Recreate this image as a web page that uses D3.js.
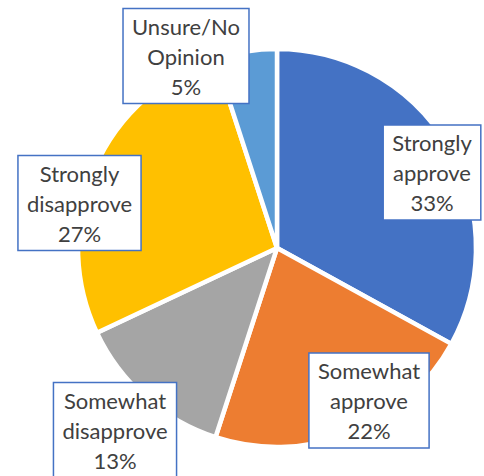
<!DOCTYPE html>
<html>
<head>
<meta charset="utf-8">
<script src="https://cdn.jsdelivr.net/npm/d3@7"></script>
<style>
  html, body { margin: 0; padding: 0; background: #ffffff; }
  svg { display: block; }
</style>
</head>
<body>
<svg id="chart" width="484" height="476"></svg>
<script>
// ---- data ----
const categories = ["Strongly approve", "Somewhat approve", "Somewhat disapprove", "Strongly disapprove", "Unsure/No Opinion"];
const values = [33, 22, 13, 27, 5];
const labelLines = [
  ["Strongly", "approve"],
  ["Somewhat", "approve"],
  ["Somewhat", "disapprove"],
  ["Strongly", "disapprove"],
  ["Unsure/No", "Opinion"]
];
const colors = ["#4472C4", "#ED7D31", "#A5A5A5", "#FFC000", "#5B9BD5"];

// ---- layout (label box centres) ----
const labelCenters = [[432, 172.5], [369, 400.5], [115, 430], [79.5, 203], [186, 56]];

const W = 484, H = 476;
const cx = 277, cy = 248, R = 199;
const svg = d3.select("#chart");

const pie = d3.pie().sort(null).value(d => d)(values);
const arc = d3.arc().innerRadius(0).outerRadius(R);

const g = svg.append("g").attr("transform", `translate(${cx},${cy})`);
g.selectAll("path").data(pie).join("path")
  .attr("d", arc)
  .attr("fill", (d, i) => colors[i])
  .attr("stroke", "#ffffff")
  .attr("stroke-width", 4.5)
  .attr("stroke-linejoin", "round");

const fmt = d3.format(".0%");
const total = d3.sum(values);
const lg = svg.append("g");
categories.forEach((c, i) => {
  const lines = labelLines[i].concat([fmt(values[i] / total)]);
  const [x, y] = labelCenters[i];
  const box = lg.append("rect");
  const t = lg.append("text")
    .attr("font-family", "Lato, 'Open Sans', sans-serif")
    .attr("font-size", 22)
    .attr("fill", "#404040")
    .attr("text-anchor", "middle");
  lines.forEach((ln, k) => {
    t.append("tspan").attr("x", x).attr("y", y + (k - 1) * 30)
      .attr("dominant-baseline", "central").text(ln);
  });
  let maxW = 0;
  t.selectAll("tspan").each(function() { maxW = Math.max(maxW, this.getComputedTextLength()); });
  const bw = maxW + 18, bh = 95;
  box.attr("x", x - bw / 2).attr("y", y - bh / 2).attr("width", bw).attr("height", bh)
    .attr("fill", "#ffffff").attr("stroke", "#4472C4").attr("stroke-width", 1.5);
});
</script>
</body>
</html>
